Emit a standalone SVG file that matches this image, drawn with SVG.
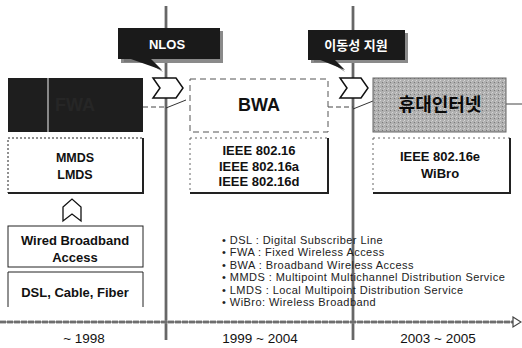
<svg xmlns="http://www.w3.org/2000/svg" width="522" height="348" viewBox="0 0 522 348">
<style>
text{font-family:"Liberation Sans",Arial,sans-serif;}
.b{font-weight:bold;text-anchor:middle;fill:#111;}
.box{fill:#fff;stroke:#222;stroke-width:1;}
.shd{fill:none;stroke:#222;stroke-width:2;}
.chev{fill:#fff;stroke:#111;stroke-width:1.5;}
.vl{stroke:#8a8a8a;stroke-width:3;}
.vl2{stroke:#333;stroke-width:0.8;}
.dash{fill:none;stroke:#444;stroke-width:1;stroke-dasharray:5 3;}
.bul{font-size:11px;letter-spacing:0.45px;fill:#222;}
.yr{font-size:13.5px;fill:#111;text-anchor:middle;}
.kr{font-family:"Liberation Sans","Noto Sans CJK KR",sans-serif;}
</style>
<defs>
<pattern id="noise" width="4" height="4" patternUnits="userSpaceOnUse">
<rect width="4" height="4" fill="#b0b0b0"/>
<rect x="0" y="0" width="1" height="1" fill="#d6d6d6"/>
<rect x="2" y="2" width="1" height="1" fill="#7a7a7a"/>
<rect x="3" y="1" width="1" height="1" fill="#c8c8c8"/>
</pattern>
</defs>

<g id="connectors">
<line class="vl" x1="166" y1="6" x2="166" y2="340"/>
<line class="vl2" x1="166" y1="6" x2="166" y2="340"/>
<line class="vl" x1="353" y1="6" x2="353" y2="340"/>
<line class="vl2" x1="353" y1="6" x2="353" y2="340"/>
<line x1="0" y1="322" x2="514" y2="322" stroke="#8a8a8a" stroke-width="3" stroke-dasharray="6 1"/>
<line x1="0" y1="322" x2="514" y2="322" stroke="#444" stroke-width="0.8"/>
<path d="M513,317 L521,322 L513,327 Z" fill="#fff" stroke="#444" stroke-width="1.2"/>
<path class="dash" d="M143,107 H166"/>
<path d="M166,108 L186,100" fill="none" stroke="#333" stroke-width="1"/>
<path class="dash" d="M328,107 H353"/>
<path d="M353,109 L373,101" fill="none" stroke="#333" stroke-width="1"/>
<path d="M506,104 H522" fill="none" stroke="#444" stroke-width="1"/>
</g>

<g id="callout-nlos">
<path d="M121,31 H223 V63 H121 Z" fill="#8a8a8a"/>
<path d="M124,56 L150,58 L163,72 L146,62 L124,62 Z" fill="#777"/>
<rect x="118" y="28" width="102" height="31" fill="#1a1a1a"/>
<path d="M128,58 L150,58 L162,70 Z" fill="#1a1a1a"/>
<text x="167" y="49" class="b" style="fill:#fff;font-size:13px">NLOS</text>
</g>

<g id="callout-mobility">
<path d="M311,33 H408 V63 H311 Z" fill="#8a8a8a"/>
<path d="M314,56 L332,58 L345,72 L330,62 L314,62 Z" fill="#777"/>
<rect x="308" y="30" width="97" height="30" fill="#1a1a1a"/>
<path d="M318,59 L334,59 L345,70 Z" fill="#1a1a1a"/>
<text x="356" y="50" class="b kr" style="fill:#fff;font-size:13px">이동성 지원</text>
</g>

<g id="chevron1">
<path class="chev" d="M153,78 H176 L183,88 L176,98 H153 L160,88 Z"/>
</g>
<g id="chevron2">
<path class="chev" d="M340,78 H361 L368,88 L361,98 H340 L347,88 Z"/>
</g>

<g id="fwa">
<rect x="8" y="78" width="135" height="54" fill="#1e1e1e"/>
<line x1="48" y1="78" x2="48" y2="132" stroke="#cfcfcf" stroke-width="1.2"/>
<text x="75" y="111" class="b" style="font-size:18px;fill:#262626">FWA</text>
</g>

<g id="mmds">
<rect class="box" x="8" y="138" width="135" height="55" stroke-dasharray="2 2"/>
<path class="shd" d="M143,138 V193 H8"/>
<text x="75" y="162" class="b" style="font-size:12.5px">MMDS</text>
<text x="75" y="179" class="b" style="font-size:12.5px">LMDS</text>
</g>

<g id="up-arrow">
<path d="M63,207 L72,199 L81,207 V221 L72,214 L63,221 Z" fill="#fff" stroke="#111" stroke-width="1.3"/>
</g>

<g id="wired">
<rect class="box" x="8" y="226" width="135" height="41"/>
<text x="75" y="245" class="b" style="font-size:13px">Wired Broadband</text>
<text x="75" y="262" class="b" style="font-size:13px">Access</text>
</g>

<g id="dsl">
<path d="M8,307 V272 H143 V307" fill="#fff" stroke="#222" stroke-width="1"/>
<text x="75" y="297" class="b" style="font-size:13px">DSL, Cable, Fiber</text>
</g>

<g id="bwa">
<rect x="190" y="79" width="138" height="53" fill="#fff" stroke="#555" stroke-width="1" stroke-dasharray="6 4"/>
<text x="259" y="111" class="b" style="font-size:18px">BWA</text>
</g>

<g id="ieee-bwa">
<path d="M190,138 V193 M190,138 H328" fill="none" stroke="#666" stroke-width="1" stroke-dasharray="2 3"/>
<path class="shd" d="M328,138 V193 H190"/>
<text x="259" y="155" class="b" style="font-size:13px">IEEE 802.16</text>
<text x="259" y="171" class="b" style="font-size:13px">IEEE 802.16a</text>
<text x="259" y="186" class="b" style="font-size:13px">IEEE 802.16d</text>
</g>

<g id="portable-internet">
<rect x="373" y="78" width="133" height="54" fill="url(#noise)" stroke="#666" stroke-width="1"/>
<text x="440" y="111" class="b kr" style="font-size:18px;fill:#0a0a0a">휴대인터넷</text>
</g>

<g id="ieee-wibro">
<path d="M373,138 V193 M373,138 H510" fill="none" stroke="#666" stroke-width="1" stroke-dasharray="2 3"/>
<path class="shd" d="M510,138 V193 H373"/>
<text x="440" y="161" class="b" style="font-size:13px">IEEE 802.16e</text>
<text x="440" y="178" class="b" style="font-size:13px">WiBro</text>
</g>

<g id="legend">
<text class="bul" x="222" y="244">• DSL : Digital Subscriber Line</text>
<text class="bul" x="222" y="256.4">• FWA : Fixed Wireless Access</text>
<text class="bul" x="222" y="268.8">• BWA : Broadband Wireless Access</text>
<text class="bul" x="222" y="281.2">• MMDS : Multipoint Multichannel Distribution Service</text>
<text class="bul" x="222" y="293.6">• LMDS : Local Multipoint Distribution Service</text>
<text class="bul" x="222" y="306">• WiBro: Wireless Broadband</text>
</g>

<g id="years">
<text class="yr" x="84" y="343">~ 1998</text>
<text class="yr" x="260" y="343">1999 ~ 2004</text>
<text class="yr" x="438" y="343">2003 ~ 2005</text>
</g>
</svg>
